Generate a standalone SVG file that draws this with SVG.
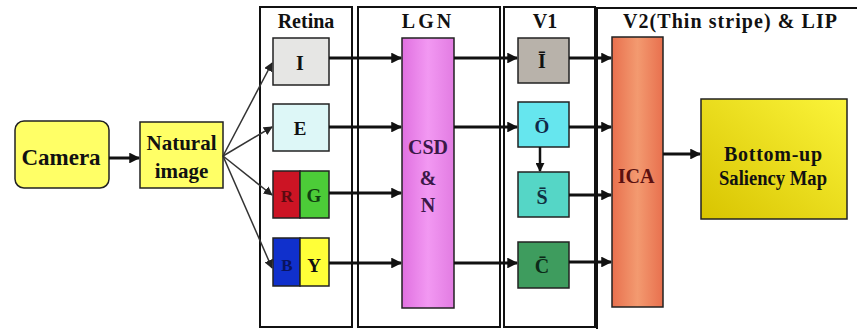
<svg xmlns="http://www.w3.org/2000/svg" width="857" height="329" viewBox="0 0 857 329">
<defs>
<marker id="ah" viewBox="0 0 10 10" refX="9" refY="5" markerWidth="3.6" markerHeight="3.6" orient="auto" markerUnits="strokeWidth"><path d="M0,0 L10,5 L0,10 z" fill="#111"/></marker>
<marker id="ahs" viewBox="0 0 10 10" refX="9" refY="5" markerWidth="6" markerHeight="6" orient="auto" markerUnits="strokeWidth"><path d="M0,0 L10,5 L0,10 z" fill="#222"/></marker>
<linearGradient id="lgn" x1="0" x2="1" y1="0" y2="0"><stop offset="0" stop-color="#e070e0"/><stop offset="0.5" stop-color="#f298f2"/><stop offset="1" stop-color="#e27ce2"/></linearGradient>
<linearGradient id="ica" x1="0" x2="1"><stop offset="0" stop-color="#e8704e"/><stop offset="0.5" stop-color="#f39a70"/><stop offset="1" stop-color="#e8704e"/></linearGradient>
<linearGradient id="sal" x1="0" x2="1" y1="1" y2="0"><stop offset="0" stop-color="#d8c400"/><stop offset="1" stop-color="#fbf43a"/></linearGradient>
</defs>
<style>
.panel{fill:none;stroke:#111;stroke-width:2}
.box{stroke:#222;stroke-width:1.5}
.t{font-weight:bold;text-anchor:middle;fill:#111}
.c{stroke:#111;stroke-width:3;fill:none;marker-end:url(#ah)}
.f{stroke:#333;stroke-width:1.5;fill:none;marker-end:url(#ahs)}
</style>

<g id="panels">
<path class="panel" d="M260,327 V7 H352 V327 Z"/>
<path class="panel" d="M358,327 V7 H500 V327 Z"/>
<path class="panel" d="M504,327 V7 H595 V327 Z"/>
<path class="panel" d="M597,329 V8 H857"/>
<text class="t" font-family="Liberation Serif" font-size="20" x="306" y="28">Retina</text>
<text class="t" font-family="Liberation Serif" font-size="20" x="428" y="28" letter-spacing="3">LGN</text>
<text class="t" font-family="Liberation Serif" font-size="20" x="545" y="28">V1</text>
<text class="t" font-family="Liberation Serif" font-size="20" x="730" y="28" textLength="214" lengthAdjust="spacing">V2(Thin stripe) &amp; LIP</text>
</g>

<g id="camera">
<rect class="box" x="15" y="121" width="94" height="67" rx="9" fill="#ffff66"/>
<text class="t" font-family="Liberation Serif" x="61" y="165" font-size="23">Camera</text>
</g>
<g id="natural">
<rect class="box" x="140" y="122" width="83" height="66" fill="#ffff66"/>
<text class="t" font-family="Liberation Serif" x="181.5" y="150" font-size="21">Natural</text>
<text class="t" font-family="Liberation Serif" x="181.5" y="178" font-size="21">image</text>
</g>

<g id="retina-I"><rect class="box" x="273" y="38" width="56" height="47" fill="#e6e6e4"/><text class="t" font-family="Liberation Serif" x="300" y="70" font-size="20">I</text></g>
<g id="retina-E"><rect class="box" x="273" y="104" width="56" height="47" fill="#ddf7f7"/><text class="t" font-family="Liberation Serif" x="300" y="135" font-size="19">E</text></g>
<g id="retina-RG"><rect class="box" x="273" y="171" width="27" height="47" fill="#cc1424"/><rect class="box" x="300" y="171" width="29" height="47" fill="#4ccc38"/><text class="t" font-family="Liberation Serif" x="287" y="202" font-size="17" style="fill:#5a0a10">R</text><text class="t" font-family="Liberation Serif" x="314" y="202" font-size="19" style="fill:#104010">G</text></g>
<g id="retina-BY"><rect class="box" x="273" y="238" width="27" height="48" fill="#1030cc"/><rect class="box" x="300" y="238" width="29" height="48" fill="#ffff38"/><text class="t" font-family="Liberation Serif" x="287" y="271" font-size="17" style="fill:#0a1460">B</text><text class="t" font-family="Liberation Serif" x="314" y="272" font-size="19">Y</text></g>

<g id="lgn-csd">
<rect class="box" x="402" y="38" width="52" height="270" fill="url(#lgn)" stroke="#4a2050"/>
<text class="t" font-family="Liberation Serif" x="428" y="154" font-size="20" style="fill:#3a1848">CSD</text>
<text class="t" font-family="Liberation Serif" x="428" y="185" font-size="20" style="fill:#3a1848">&amp;</text>
<text class="t" font-family="Liberation Serif" x="428" y="212" font-size="20" style="fill:#3a1848">N</text>
</g>

<g id="v1-I"><rect class="box" x="518" y="38" width="51" height="45" fill="#b8b2aa"/><text class="t" font-family="Liberation Serif" x="542" y="68" font-size="20">&#298;</text></g>
<g id="v1-O"><rect class="box" x="518" y="102" width="51" height="45" fill="#66e6ee"/><text class="t" font-family="Liberation Serif" x="542" y="133" font-size="19" style="fill:#102848">&#332;</text></g>
<g id="v1-S"><rect class="box" x="518" y="172" width="51" height="45" fill="#55d6c6"/><text class="t" font-family="Liberation Serif" x="542" y="204" font-size="20" style="fill:#103040">S&#772;</text></g>
<g id="v1-C"><rect class="box" x="518" y="242" width="51" height="46" fill="#3e9c5e"/><text class="t" font-family="Liberation Serif" x="542" y="273" font-size="20" style="fill:#0c2a18">C&#772;</text></g>

<g id="ica">
<rect class="box" x="612" y="37" width="51" height="270" fill="url(#ica)" stroke="#6a2a18"/>
<text class="t" font-family="Liberation Serif" x="636" y="183" font-size="20" style="fill:#5a1010">ICA</text>
</g>

<g id="saliency">
<rect class="box" x="701" y="99" width="146" height="120" fill="url(#sal)"/>
<text class="t" font-family="Liberation Serif" x="773" y="161" font-size="20" textLength="98" lengthAdjust="spacing">Bottom-up</text>
<text class="t" font-family="Liberation Serif" x="773" y="185" font-size="20" textLength="108" lengthAdjust="spacingAndGlyphs">Saliency Map</text>
</g>

<g id="connectors">
<line class="c" x1="109" y1="158" x2="139" y2="158"/>
<line class="f" x1="223" y1="156" x2="272" y2="63"/>
<line class="f" x1="223" y1="156" x2="272" y2="127"/>
<line class="f" x1="223" y1="156" x2="272" y2="195"/>
<line class="f" x1="223" y1="156" x2="272" y2="268"/>
<line class="c" x1="329" y1="58" x2="401" y2="58"/>
<line class="c" x1="329" y1="127" x2="401" y2="127"/>
<line class="c" x1="329" y1="193" x2="401" y2="193"/>
<line class="c" x1="329" y1="263" x2="401" y2="263"/>
<line class="c" x1="454" y1="58" x2="517" y2="58"/>
<line class="c" x1="454" y1="127" x2="517" y2="127"/>
<line class="c" x1="454" y1="263" x2="517" y2="263"/>
<line class="c" x1="540" y1="147" x2="540" y2="171" style="stroke-width:2.5"/>
<line class="c" x1="569" y1="58" x2="611" y2="58"/>
<line class="c" x1="569" y1="127" x2="611" y2="127"/>
<line class="c" x1="569" y1="195" x2="611" y2="195"/>
<line class="c" x1="569" y1="262" x2="611" y2="262"/>
<line class="c" x1="663" y1="154" x2="700" y2="154"/>
</g>
</svg>
